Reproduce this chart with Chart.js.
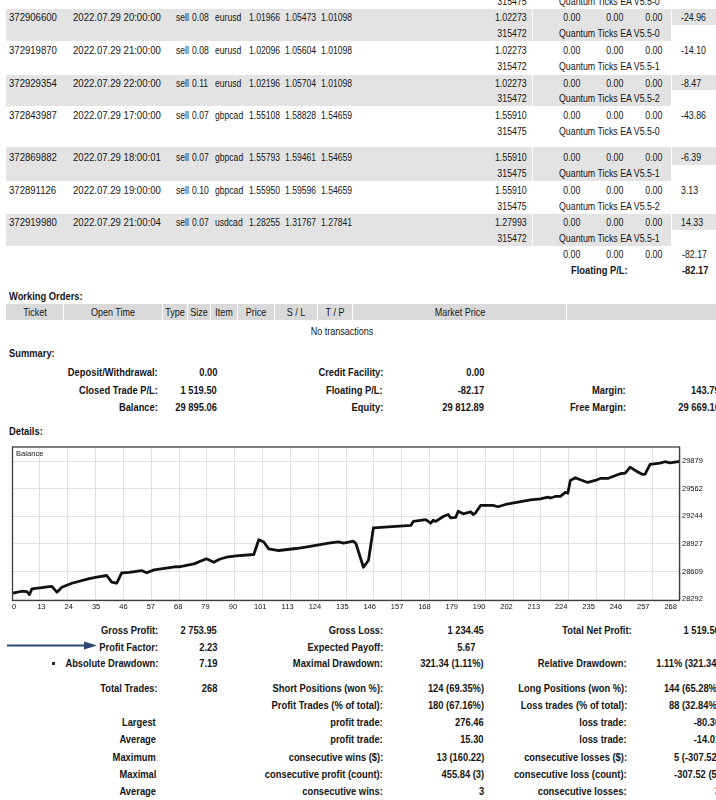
<!DOCTYPE html>
<html>
<head>
<meta charset="utf-8">
<script src="https://cdn.jsdelivr.net/npm/chart.js@4.4.1/dist/chart.umd.min.js"></script>
<style>
html,body{margin:0;padding:0;background:#fff;}
#page{position:relative;width:716px;height:800px;overflow:hidden;background:#fff;}
#cw{position:absolute;left:0;top:440px;width:716px;height:175px;}
</style>
</head>
<body>
<div id="page"><div id="cw"><canvas id="c"></canvas></div></div>
<script>
// ---------- chart data ----------
const trades  = [0,4,6,7,8,15,16,18,20,24,31,34,38,40,42,44,47,52,54,57,66,67,73,78,81,83,86,90,97,99,101,103,107,114,119,127,131,133,137,138,141,143,145,160,161,166,168,169,170,173,175,176,178,179,181,184,185,186,188,193,195,198,203,208,212,215,216,218,220,222,223,224,226,228,231,234,236,239,244,246,248,250,253,254,256,260,262,264,268];
const balance = [28361,28384,28380,28346,28411,28438,28440,28373,28430,28476,28530,28545,28565,28488,28476,28596,28600,28622,28596,28630,28668,28665,28699,28757,28718,28749,28775,28791,28806,28975,28950,28871,28852,28875,28898,28936,28952,28936,28959,28930,28660,28737,29113,29140,29186,29208,29166,29200,29186,29243,29266,29228,29232,29304,29274,29297,29266,29285,29370,29370,29355,29381,29407,29435,29446,29465,29455,29473,29473,29519,29510,29657,29688,29665,29634,29657,29680,29680,29734,29741,29810,29772,29726,29730,29841,29856,29872,29860,29876];
const xTickLabels = ['0','13','24','35','46','57','68','79','90','101','113','124','135','146','157','168','179','190','202','213','224','235','246','257','268'];
const yTickValues = [28292,28609,28927,29244,29562,29879];
const totalTrades = 268;

// ---------- report texts ----------
const openTrades = [
  ['372906600','2022.07.29 20:00:00','sell','0.08','eurusd','1.01966','1.05473','1.01098','1.02273','315472','Quantum Ticks EA V5.5-0','-24.96'],
  ['372919870','2022.07.29 21:00:00','sell','0.08','eurusd','1.02096','1.05604','1.01098','1.02273','315472','Quantum Ticks EA V5.5-1','-14.10'],
  ['372929354','2022.07.29 22:00:00','sell','0.11','eurusd','1.02196','1.05704','1.01098','1.02273','315472','Quantum Ticks EA V5.5-2','-8.47'],
  ['372843987','2022.07.29 17:00:00','sell','0.07','gbpcad','1.55108','1.58828','1.54659','1.55910','315475','Quantum Ticks EA V5.5-0','-43.86'],
  ['372869882','2022.07.29 18:00:01','sell','0.07','gbpcad','1.55793','1.59461','1.54659','1.55910','315475','Quantum Ticks EA V5.5-1','-6.39'],
  ['372891126','2022.07.29 19:00:00','sell','0.10','gbpcad','1.55950','1.59596','1.54659','1.55910','315475','Quantum Ticks EA V5.5-2','3.13'],
  ['372919980','2022.07.29 21:00:04','sell','0.07','usdcad','1.28255','1.31767','1.27841','1.27993','315472','Quantum Ticks EA V5.5-1','14.33']
];
const workingHeaders = ['Ticket','Open Time','Type','Size','Item','Price','S / L','T / P','Market Price',''];
const summaryRows = [
  ['Deposit/Withdrawal:','0.00','Credit Facility:','0.00','',''],
  ['Closed Trade P/L:','1 519.50','Floating P/L:','-82.17','Margin:','143.79'],
  ['Balance:','29 895.06','Equity:','29 812.89','Free Margin:','29 669.10']
];
const statsRows = [
  ['Gross Profit:','2 753.95','Gross Loss:','1 234.45','Total Net Profit:','1 519.50'],
  ['Profit Factor:','2.23','Expected Payoff:','5.67','',''],
  ['Absolute Drawdown:','7.19','Maximal Drawdown:','321.34 (1.11%)','Relative Drawdown:','1.11% (321.34)'],
  ['Total Trades:','268','Short Positions (won %):','124 (69.35%)','Long Positions (won %):','144 (65.28%)'],
  ['','','Profit Trades (% of total):','180 (67.16%)','Loss trades (% of total):','88 (32.84%)'],
  ['Largest','','profit trade:','276.46','loss trade:','-80.30'],
  ['Average','','profit trade:','15.30','loss trade:','-14.01'],
  ['Maximum','','consecutive wins ($):','13 (160.22)','consecutive losses ($):','5 (-307.52)'],
  ['Maximal','','consecutive profit (count):','455.84 (3)','consecutive loss (count):','-307.52 (5)'],
  ['Average','','consecutive wins:','3','consecutive losses:','3']
];

// ---------- layout helpers ----------
const page = document.getElementById('page');
function box(x,y,w,h,col){
  const d=document.createElement('div');
  d.style.cssText=`position:absolute;left:${x}px;top:${y}px;width:${w}px;height:${h}px;background:${col};`;
  page.appendChild(d);
}
function T(x,y,s,o={}){
  if(!s) return;
  const d=document.createElement('div');
  d.textContent=s;
  const size=o.size||11, sx=o.sx||(o.bold?0.85:0.87), al=o.align||'left';
  let css=`position:absolute;top:${y-8}px;height:16px;line-height:16px;font-size:${size}px;font-family:'Liberation Sans',Arial,sans-serif;white-space:nowrap;color:#151515;font-weight:${o.bold?700:400};z-index:3;`;
  if(al==='left') css+=`left:${x}px;transform:scaleX(${sx});transform-origin:left center;`;
  else if(al==='right') css+=`right:${716-x}px;transform:scaleX(${sx});transform-origin:right center;`;
  else css+=`left:${x}px;transform:translateX(-50%) scaleX(${sx});transform-origin:center center;`;
  d.style.cssText=css;
  page.appendChild(d);
}

// ---------- open trades table ----------
const BAND='#e3e3e3';
const rowY=[17,50,82.5,114.5,157,189.5,221.5];
const subY=[33,65.5,98,131,172.5,205.5,237.5];
[[0,9,41],[2,74.5,106],[4,147,180.5],[6,213.5,245.5]].forEach(([i,t,b])=>{
  const mid=(rowY[i]+subY[i])/2;
  box(6,t,710,mid-t,BAND);
  box(6,mid,665,b-mid,BAND);
  box(532,t,1,b-t,'#fff');
  box(671,t,1,mid-t+0.5,'#fff');
});
const N={sx:0.78};
T(527,1,'315475',{align:'right',sx:0.8});
T(559,1,'Quantum Ticks EA V5.5-0',{sx:0.8});
openTrades.forEach((r,i)=>{
  const y=rowY[i], y2=subY[i];
  T(9,y,r[0]); T(73,y,r[1]);
  T(176,y,r[2],N); T(192,y,r[3],N); T(215,y,r[4],N);
  T(249,y,r[5],N); T(285,y,r[6],N); T(321,y,r[7],N);
  T(527,y,r[8],{align:'right',sx:0.8});
  T(580,y,'0.00',{align:'right',sx:0.8}); T(623,y,'0.00',{align:'right',sx:0.8}); T(662,y,'0.00',{align:'right',sx:0.8});
  T(681,y,r[11],{sx:0.8});
  T(527,y2,r[9],{align:'right',sx:0.8});
  T(559,y2,r[10],{sx:0.8});
});
T(580,253.5,'0.00',{align:'right',sx:0.8}); T(623,253.5,'0.00',{align:'right',sx:0.8}); T(662,253.5,'0.00',{align:'right',sx:0.8});
T(682,253.5,'-82.17',{sx:0.8});
T(628,269.5,'Floating P/L:',{align:'right',bold:true});
T(682,269.5,'-82.17',{bold:true});

// ---------- working orders ----------
T(9,296,'Working Orders:',{bold:true});
const hdrCells=[[6,63],[64,162],[163,187],[188,210],[211,237],[238,274],[275,317],[318,352],[353,566],[567,716]];
hdrCells.forEach(([a,b],i)=>{
  box(a,304,b-a,16,'#d9d9d9');
  T((a+b)/2,312,workingHeaders[i],{align:'center',sx:0.82});
});
T(342,331,'No transactions',{align:'center',sx:0.82});

// ---------- summary ----------
T(9,353,'Summary:',{bold:true});
const sumY=[372.3,390,406.7];
summaryRows.forEach((r,i)=>{
  const y=sumY[i];
  T(158,y,r[0],{align:'right',bold:true});
  T(217,y,r[1],{align:'right',bold:true});
  T(383,y,r[2],{align:'right',bold:true});
  T(484,y,r[3],{align:'right',bold:true});
  T(626,y,r[4],{align:'right',bold:true});
  T(720,y,r[5],{align:'right',bold:true});
});
T(9,431,'Details:',{bold:true});

// ---------- stats ----------
const statY=[630,646.7,662.7,687.7,705,722,739,756.5,774,791];
statsRows.forEach((r,i)=>{
  const y=statY[i];
  const lab1 = (i>=5)?156:158;
  T(lab1,y,r[0],{align:'right',bold:true});
  T(217,y,r[1],{align:'right',bold:true});
  T(383,y,r[2],{align:'right',bold:true});
  T(i===1?475:484,y,r[3],{align:'right',bold:true});
  T(i===0?632:627,y,r[4],{align:'right',bold:true});
  T(720,y,r[5],{align:'right',bold:true});
});
const svgNS='http://www.w3.org/2000/svg';
const svg=document.createElementNS(svgNS,'svg');
svg.setAttribute('width','110');svg.setAttribute('height','30');
svg.style.cssText='position:absolute;left:0;top:630px;z-index:2;';
svg.innerHTML='<line x1="7" y1="15.5" x2="86" y2="15.5" stroke="#2b4670" stroke-width="2"/><polygon points="84,11.5 97,15.5 84,19.5" fill="#2b4670"/>';
page.appendChild(svg);
box(52,661.5,3,3,'#2a2a2a');

T(15.7,454,'Balance',{size:8,sx:0.95});

// ---------- chart ----------
const frame={id:'frame',afterDraw(ch){
  const {left,top,right,bottom}=ch.chartArea, c=ch.ctx;
  c.save();c.strokeStyle='#3c3c3c';c.lineWidth=1.3;
  c.strokeRect(left+0.5,top+0.5,right-left-1,bottom-top-1);
  c.restore();
}};
const tickFont={family:"'Liberation Sans Narrow','Arial Narrow','Liberation Sans',sans-serif",size:7.5};
new Chart(document.getElementById('c'),{
  type:'line',
  data:{datasets:[{
    label:'Balance',
    data:trades.map((t,i)=>({x:t,y:balance[i]})),
    borderColor:'#111',borderWidth:2.8,pointRadius:0,tension:0,fill:false,
    borderJoinStyle:'round',borderCapStyle:'round',
    xAxisID:'x',yAxisID:'y'
  }]},
  options:{
    animation:false,responsive:true,maintainAspectRatio:false,devicePixelRatio:1,
    layout:{padding:{left:12,top:6,right:0,bottom:0}},
    plugins:{legend:{display:false},tooltip:{enabled:false},title:{display:false}},
    scales:{
      x:{type:'linear',position:'bottom',min:0,max:totalTrades,
        afterBuildTicks:s=>{s.ticks=xTickLabels.map((_,k)=>({value:k*totalTrades/(xTickLabels.length-1)}));},
        grid:{color:'#e2e2e2',lineWidth:1,drawTicks:false},border:{display:false},
        ticks:{display:false},afterFit:s=>{s.height=0;}},
      xl:{type:'linear',position:'bottom',min:-0.073,max:24.342,
        afterBuildTicks:s=>{s.ticks=xTickLabels.map((_,k)=>({value:k}));},
        grid:{display:false,drawTicks:false},border:{display:false},
        ticks:{callback:v=>xTickLabels[Math.round(v)],font:tickFont,color:'#111',padding:1,maxRotation:0,minRotation:0,autoSkip:false},
        afterFit:s=>{s.height=14;}},
      y:{type:'linear',position:'right',min:28272,max:30047,
        afterBuildTicks:s=>{s.ticks=yTickValues.map(v=>({value:v}));},
        grid:{color:'#e2e2e2',lineWidth:1,drawTicks:false},border:{display:false},
        ticks:{callback:v=>String(v),font:tickFont,color:'#111',padding:2},
        afterFit:s=>{s.width=36;}}
    }
  },
  plugins:[frame]
});
</script>
</body>
</html>
